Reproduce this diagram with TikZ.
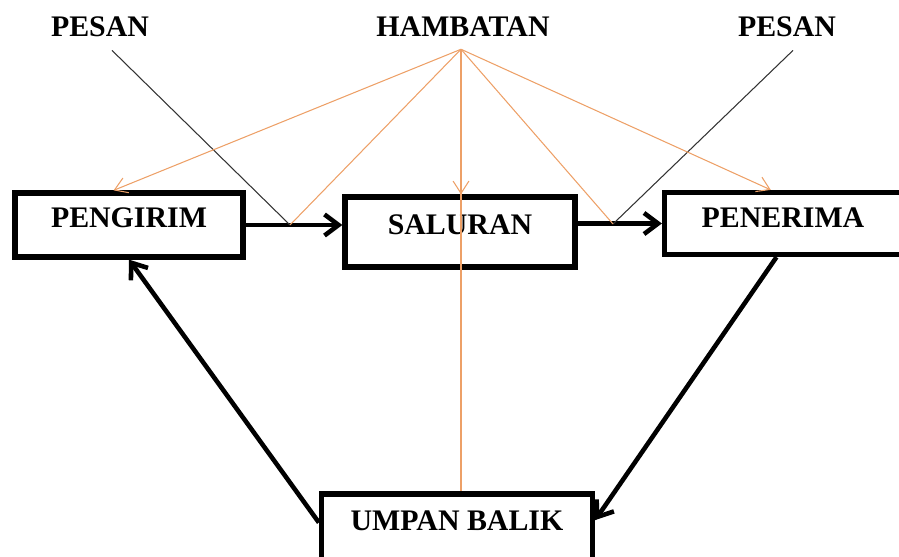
\documentclass[tikz,border=0pt]{standalone}
\usepackage{fontspec}
\setmainfont{Liberation Serif}
\usepackage{tikz}
\usetikzlibrary{arrows.meta,positioning,calc}
\definecolor{kmink}   {HTML}{000000}
\definecolor{kmwire}  {HTML}{333333}
\definecolor{kmnoise} {HTML}{EDA067}
\tikzset{
  kmbox/.style={draw=kmink, line width=3pt, inner sep=0pt,
                font=\fontsize{17}{20}\selectfont\bfseries,
                text height=0.4cm, text depth=0.28cm},
  kmlabel/.style={inner sep=0pt, font=\fontsize{17}{20}\selectfont\bfseries},
  kmflow/.style={-{Straight Barb[length=8pt,width=12pt]}, draw=kmink, line width=2.6pt},
  kmnoise/.style={draw=kmnoise, line width=0.6pt},
  kmnoisearrow/.style={kmnoise, -{Straight Barb[length=7pt,width=9pt]}},
  kmmsg/.style={draw=kmwire, line width=0.6pt},
}

\begin{document}
\begin{tikzpicture}[x=0.02cm, y=-0.02cm]
  \useasboundingbox (0,0) rectangle (899,557);
  \clip (0,0) rectangle (899,557);

  \node[kmbox, minimum width=4.56cm, minimum height=1.28cm] (pengirim) at (129,225)   {PENGIRIM};
  \node[kmbox, minimum width=4.6cm,  minimum height=1.4cm]  (saluran)  at (460,232)   {SALURAN};
  \node[kmbox, minimum width=4.74cm, minimum height=1.24cm, text depth=0.22cm] (penerima) at (783,223.5) {PENERIMA};
  \node[kmbox, minimum width=5.42cm, minimum height=1.92cm, text depth=0.88cm] (umpan) at (457,542) {UMPAN BALIK};

  \node[kmlabel] (pesanL)   at (100,27) {PESAN};
  \node[kmlabel] (hambatan) at (463,27) {HAMBATAN};
  \node[kmlabel] (pesanR)   at (787,27) {PESAN};

  \coordinate (hb) at ($(hambatan.south)+(-2,12)$);
  \coordinate (j1) at (290,225);
  \coordinate (j2) at (613,224);

  % main flow
  \draw[kmflow] (pengirim.east) -- (saluran.west |- pengirim.east);
  \draw[kmflow] (saluran.east |- penerima.west) -- (penerima.west);
  \draw[kmflow] (penerima.-101) -- (umpan.9);
  \draw[kmflow] (umpan.172) -- (pengirim.south);

  % pesan
  \draw[kmmsg] ($(pesanL.south)+(12,13)$) -- (j1);
  \draw[kmmsg] ($(pesanR.south)+(6,13)$) -- (j2);

  % hambatan
  \draw[kmnoisearrow] (hb) -- (pengirim.114);
  \draw[kmnoise] (hb) -- (j1);
  \draw[kmnoise] (hb) -- (hb |- umpan.north);
  \draw[kmnoisearrow] (hb) -- (hb |- saluran.north);
  \draw[kmnoise] (hb) -- (j2);
  \draw[kmnoisearrow] (hb) -- (penerima.110);
\end{tikzpicture}
\end{document}
